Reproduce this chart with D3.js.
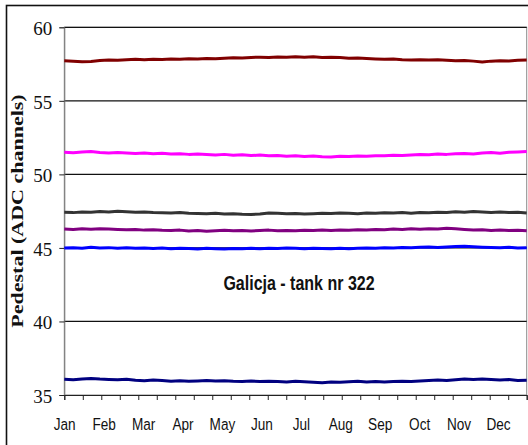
<!DOCTYPE html>
<html>
<head>
<meta charset="utf-8">
<script src="https://cdn.jsdelivr.net/npm/d3@7"></script>
<style>
  html, body { margin: 0; padding: 0; background: #fff; }
  svg { display: block; }
</style>
</head>
<body>
<svg id="chart" width="528" height="445"></svg>
<script>
// Month labels along the bottom
const months = ["Jan","Feb","Mar","Apr","May","Jun","Jul","Aug","Sep","Oct","Nov","Dec"];
// Y tick values
const yTickValues = [35, 40, 45, 50, 55, 60];

// Weekly pedestal readings (ADC channels), 53 points per channel
const pedRed = [57.73,57.70,57.66,57.68,57.74,57.78,57.76,57.80,57.82,57.79,57.83,57.81,
  57.84,57.82,57.86,57.84,57.88,57.86,57.90,57.93,57.91,57.95,57.97,57.94,57.98,57.96,58.00,
  57.97,57.99,57.95,57.97,57.94,57.90,57.92,57.88,57.85,57.82,57.84,57.80,57.78,57.80,57.77,
  57.79,57.76,57.72,57.75,57.70,57.64,57.70,57.73,57.71,57.76,57.78];
const pedMagenta = [51.50,51.47,51.52,51.55,51.49,51.46,51.48,51.45,51.42,51.45,51.40,51.43,
  51.38,51.41,51.36,51.39,51.35,51.32,51.36,51.30,51.33,51.28,51.31,51.27,51.29,51.24,51.27,
  51.22,51.25,51.20,51.18,51.23,51.21,51.25,51.23,51.27,51.26,51.30,51.28,51.32,51.35,51.33,
  51.38,51.36,51.40,51.42,51.39,51.45,51.48,51.44,51.50,51.53,51.56];
const pedGray = [47.42,47.40,47.45,47.43,47.47,47.44,47.50,47.46,47.42,47.45,47.41,47.39,
  47.37,47.40,47.36,47.34,47.32,47.35,47.30,47.33,47.29,47.27,47.31,47.38,47.35,47.32,47.34,
  47.31,47.33,47.36,47.34,47.38,47.35,47.33,47.37,47.35,47.39,47.37,47.40,47.36,47.41,47.39,
  47.43,47.41,47.46,47.43,47.47,47.44,47.41,47.44,47.40,47.42,47.38];
const pedPurple = [46.28,46.25,46.30,46.27,46.31,46.28,46.26,46.23,46.25,46.21,46.24,46.20,
  46.18,46.21,46.15,46.18,46.14,46.17,46.20,46.16,46.19,46.15,46.18,46.21,46.17,46.19,46.16,
  46.20,46.18,46.21,46.19,46.22,46.20,46.24,46.22,46.26,46.24,46.28,46.26,46.30,46.27,46.31,
  46.28,46.33,46.30,46.26,46.22,46.24,46.19,46.21,46.18,46.20,46.17];
const pedBlue = [44.99,45.01,44.98,45.04,45.00,45.02,44.98,45.01,44.97,45.00,44.96,44.99,
  44.95,44.98,44.96,44.93,44.97,44.95,44.92,44.96,44.94,44.97,44.95,44.98,44.96,44.99,44.97,
  44.95,44.98,44.96,44.94,44.97,44.95,44.98,45.00,44.97,45.01,44.99,45.03,45.01,45.04,45.06,
  45.03,45.07,45.09,45.12,45.08,45.05,45.03,45.01,45.04,45.00,45.02];
const pedNavy = [36.07,36.03,36.09,36.12,36.08,36.06,36.04,36.07,36.00,35.97,36.02,35.99,
  35.94,35.97,35.93,35.96,35.99,35.95,35.97,35.93,35.92,35.95,35.91,35.94,35.92,35.89,35.93,
  35.90,35.87,35.84,35.88,35.86,35.90,35.93,35.89,35.92,35.88,35.91,35.94,35.92,35.96,35.99,
  36.02,35.98,36.04,36.08,36.05,36.09,36.06,36.02,36.05,35.99,36.01];

const seriesList = [
  { values: pedRed, color: "#800000" },
  { values: pedMagenta, color: "#ff00ff" },
  { values: pedGray, color: "#333333" },
  { values: pedPurple, color: "#800080" },
  { values: pedBlue, color: "#0000ff" },
  { values: pedNavy, color: "#000080" }
];

const svg = d3.select("#chart");
const plotLeft = 64.3, plotRight = 526.7, plotTop = 27.3, plotBottom = 395;

const x = d3.scaleLinear().domain([0, 52]).range([plotLeft, plotRight]);
const y = d3.scaleLinear().domain([35, 60]).range([plotBottom, plotTop]);
const monthPos = d3.scalePoint().domain(months).range([64.7, 498.5]);
// 25 evenly spaced minor divisions along the time axis
const xTickUnits = d3.scaleLinear().domain([0, 25]).range([plotLeft, plotRight]);

// outer frame (runs off the right and bottom edges)
svg.append("rect")
  .attr("x", 6.5).attr("y", 5.5)
  .attr("width", 540).attr("height", 460)
  .attr("fill", "none").attr("stroke", "#111").attr("stroke-width", 1.6);

// plot area frame
svg.append("rect")
  .attr("x", plotLeft).attr("y", plotTop)
  .attr("width", plotRight - plotLeft).attr("height", plotBottom - plotTop)
  .attr("fill", "none").attr("stroke", "#8a8a8a").attr("stroke-width", 1);

// horizontal gridlines
svg.append("g").selectAll("line")
  .data(yTickValues.filter(v => v > 35))
  .join("line")
  .attr("x1", plotLeft).attr("x2", plotRight)
  .attr("y1", d => y(d)).attr("y2", d => y(d))
  .attr("stroke", "#111").attr("stroke-width", 1.2);

// left axis
const yAxis = d3.axisLeft(y).tickValues(yTickValues).tickSize(5).tickPadding(7);
const gy = svg.append("g").attr("transform", `translate(${plotLeft},0)`).call(yAxis);
gy.select(".domain").attr("stroke", "#777");
gy.selectAll(".tick line").attr("stroke", "#222");
gy.selectAll(".tick text")
  .attr("font-family", "'Liberation Serif', 'Times New Roman', serif")
  .attr("font-size", 19).attr("fill", "#111")
  .attr("dy", "0.38em");

// bottom axis with the minor divisions
const xAxis = d3.axisBottom(xTickUnits).tickValues(d3.range(0, 26)).tickSize(5).tickFormat("");
const gx = svg.append("g").attr("transform", `translate(0,${plotBottom})`).call(xAxis);
gx.select(".domain").attr("stroke", "#222");
gx.selectAll(".tick line").attr("stroke", "#222");

// month labels (narrow, tall lettering)
svg.append("g").selectAll("text")
  .data(months)
  .join("text")
  .attr("transform", d => `translate(${monthPos(d)},430) scale(0.8,1)`)
  .attr("text-anchor", "middle")
  .attr("font-family", "'Liberation Sans', Arial, sans-serif")
  .attr("font-size", 17).attr("fill", "#111")
  .text(d => d);

// y axis title
svg.append("text")
  .attr("transform", "translate(23,211) rotate(-90) scale(1,0.78)")
  .attr("text-anchor", "middle")
  .attr("font-family", "'Liberation Serif', 'Times New Roman', serif")
  .attr("font-weight", "bold")
  .attr("font-size", 22).attr("fill", "#111")
  .text("Pedestal (ADC channels)");

// pedestal traces
const line = d3.line().x((d, i) => x(i)).y(d => y(d));
svg.append("g").selectAll("path")
  .data(seriesList)
  .join("path")
  .attr("d", d => line(d.values))
  .attr("fill", "none")
  .attr("stroke", d => d.color)
  .attr("stroke-width", 3)
  .attr("stroke-linejoin", "round");

// caption inside the plot
svg.append("text")
  .attr("transform", "translate(299,290) scale(0.8,1)")
  .attr("text-anchor", "middle")
  .attr("font-family", "'Liberation Sans', Arial, sans-serif")
  .attr("font-weight", "bold")
  .attr("font-size", 20).attr("fill", "#111")
  .text("Galicja - tank nr 322");
</script>
</body>
</html>
